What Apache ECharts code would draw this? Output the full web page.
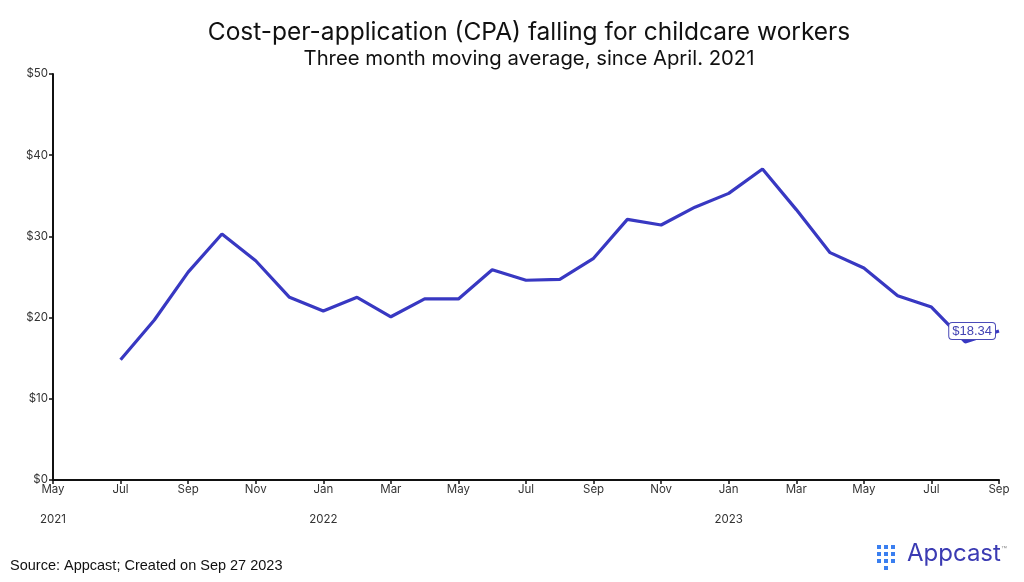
<!DOCTYPE html>
<html>
<head>
<meta charset="utf-8">
<script src="https://cdn.jsdelivr.net/npm/echarts@6/dist/echarts.min.js"></script>
<style>
html,body{margin:0;padding:0;background:#fff;}
#chart{width:1024px;height:582px;}
</style>
</head>
<body>
<div id="chart"></div>
<script>
const monthLabels = ['May','Jun','Jul','Aug','Sep','Oct','Nov','Dec','Jan','Feb','Mar','Apr','May','Jun','Jul','Aug','Sep','Oct','Nov','Dec','Jan','Feb','Mar','Apr','May','Jun','Jul','Aug','Sep'];
const yearLabels = ['2021','','','','','','','','2022','','','','','','','','','','','','2023','','','','','','','',''];
const cpaValues = [null,null,14.8,19.7,25.6,30.3,27.0,22.5,20.8,22.5,20.1,22.3,22.3,25.9,24.6,24.7,27.3,32.1,31.4,33.6,35.3,38.3,33.3,28.0,26.1,22.7,21.3,17.0,18.34];
const endLabelText = '$18.34';
const yTicks = {min:0, max:50, interval:10};

const lineColor = '#3838c2';
const seriesData = cpaValues.map((v,i) => {
  if (i === cpaValues.length - 1) {
    return {
      value: v,
      label: {
        show: true, position: 'left', distance: 4,
        formatter: endLabelText,
        fontFamily: 'Liberation Sans, Arial', fontSize: 13, color: '#4343b3',
        backgroundColor: '#fff', borderColor: '#4a4ab8', borderWidth: 1,
        borderRadius: 3, padding: [2,3,1,3]
      }
    };
  }
  return v;
});

const chart = echarts.init(document.getElementById('chart'));
const axisFont = {fontFamily: 'Inter, Lato, sans-serif', fontSize: 11.5, color: '#333'};
chart.setOption({
  animation: false,
  backgroundColor: '#fff',
  title: [{
    text: 'Cost-per-application (CPA) falling for childcare workers',
    left: 524, top: 15, textAlign: 'center',
    textStyle: {fontFamily: 'Inter, sans-serif', fontSize: 24.5, fontWeight: 'normal', color: '#111'}
  }, {
    text: 'Three month moving average, since April. 2021',
    left: 524, top: 44, textAlign: 'center',
    textStyle: {fontFamily: 'Inter, sans-serif', fontSize: 20.3, fontWeight: 'normal', color: '#111'}
  }],
  grid: {left: 53, right: 25, top: 74, bottom: 102, containLabel: false},
  xAxis: [{
    type: 'category', data: monthLabels, boundaryGap: false,
    axisLine: {lineStyle: {color: '#111', width: 2}},
    axisTick: {show: true, interval: 1, length: 4, lineStyle: {color: '#111', width: 1.5}},
    axisLabel: Object.assign({interval: 1, margin: 4}, axisFont),
    splitLine: {show: false}
  }, {
    type: 'category', data: yearLabels, boundaryGap: false, position: 'bottom', offset: 30,
    axisLine: {show: false}, axisTick: {show: false},
    axisLabel: Object.assign({interval: 0, margin: 4}, axisFont),
    splitLine: {show: false}
  }],
  yAxis: {
    type: 'value', min: yTicks.min, max: yTicks.max, interval: yTicks.interval,
    axisLine: {show: true, lineStyle: {color: '#111', width: 2}},
    axisTick: {show: true, length: 4, lineStyle: {color: '#111', width: 1.5}},
    axisLabel: Object.assign({formatter: '${value}', margin: 5}, axisFont),
    splitLine: {show: false}
  },
  series: [{
    type: 'line', data: seriesData, xAxisIndex: 0,
    showSymbol: true, symbol: 'circle', symbolSize: 0, connectNulls: false,
    lineStyle: {color: lineColor, width: 3.2},
    itemStyle: {color: lineColor}
  }],
  graphic: [
    {type: 'text', left: 10, top: 558, style: {text: 'Source: Appcast; Created on Sep 27 2023', font: '14.5px "Liberation Sans", Arial', fill: '#111'}},
    {type: 'group', left: 877, top: 545, children: [
      {type:'rect', shape:{x:0,y:0,width:4,height:4}, style:{fill:'#3a7ff0'}},
      {type:'rect', shape:{x:0,y:7,width:4,height:4}, style:{fill:'#3a7ff0'}},
      {type:'rect', shape:{x:0,y:14,width:4,height:4}, style:{fill:'#3a7ff0'}},
      {type:'rect', shape:{x:7,y:0,width:4,height:4}, style:{fill:'#3a7ff0'}},
      {type:'rect', shape:{x:7,y:7,width:4,height:4}, style:{fill:'#3a7ff0'}},
      {type:'rect', shape:{x:7,y:14,width:4,height:4}, style:{fill:'#3a7ff0'}},
      {type:'rect', shape:{x:7,y:21,width:4,height:4}, style:{fill:'#3a7ff0'}},
      {type:'rect', shape:{x:14,y:0,width:4,height:4}, style:{fill:'#3a7ff0'}},
      {type:'rect', shape:{x:14,y:7,width:4,height:4}, style:{fill:'#3a7ff0'}},
      {type:'rect', shape:{x:14,y:14,width:4,height:4}, style:{fill:'#3a7ff0'}}
    ]},
    {type: 'text', left: 907, top: 542, style: {text: 'Appcast', font: '24px Inter, Roboto, sans-serif', fill: '#3b3bb3'}},
    {type: 'text', left: 1001, top: 545, style: {text: '™', font: '6px sans-serif', fill: '#888'}}
  ]
});
</script>
</body>
</html>
